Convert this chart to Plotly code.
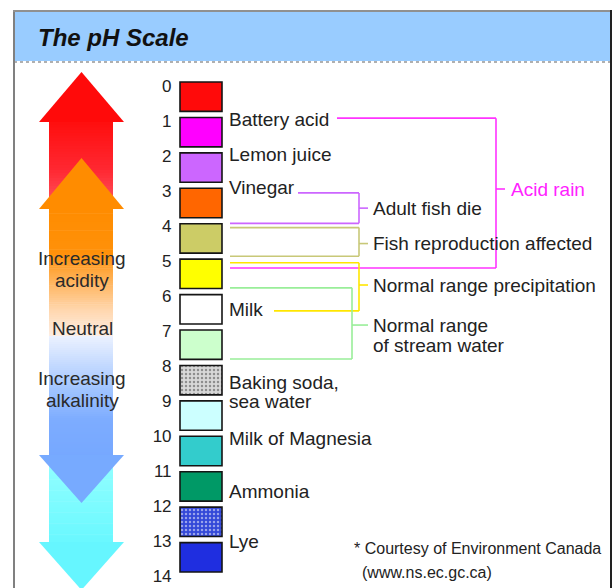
import plotly.graph_objects as go

# ---------------- data ----------------
ph_ticks = list(range(15))
tick_labels = [str(v) for v in ph_ticks]
swatch_ph = list(range(14))
swatch_height = [0.83] * 14

substance_names = ["Battery acid", "Lemon juice", "Vinegar", "Milk",
                   "Baking soda,", "sea water", "Milk of Magnesia", "Ammonia", "Lye"]
substance_ph = [1.07, 2.06, 2.99, 6.41, 8.47, 9.03, 10.05, 11.57, 12.98]

bracket_names = ["Acid rain", "Adult fish die", "Fish reproduction affected",
                 "Normal range precipitation", "Normal range"]
bracket_top_ph = [1.02, 3.13, 4.11, 5.10, 5.81]
bracket_bottom_ph = [5.25, 3.99, 4.92, 6.46, 7.82]
bracket_label_ph = [3.02, 3.56, 4.56, 5.73, 6.86]
extra_line_name = "of stream water"
extra_line_ph = 7.45

# ---------------- styles ----------------
FONT = "Liberation Sans, Arial, Helvetica, sans-serif"
swatch_colors = ["#ff0a0a", "#ff00ff", "#cc66ff", "#ff6600", "#cccc66", "#ffff00",
                 "#ffffff", "#ccffcc", "#d8d8d8", "#ccffff", "#33cccc", "#009966",
                 "#3348d8", "#1f2ee0"]
pattern_shapes = ["", "", "", "", "", "", "", "", ".", "", "", "", ".", ""]
pattern_fg = ["#ffffff"] * 8 + ["#f2f2f2"] + ["#ffffff"] * 3 + ["#6f80ee", "#ffffff"]
bracket_colors = ["#ff33ff", "#cc66ff", "#c8c878", "#ffe600", "#99ee99"]
bracket_vx = [496, 359, 359, 359, 352]
bracket_top_x0 = [337, 298, 230, 230, 230]
bracket_bot_x0 = [230, 230, 230, 274, 230]
bracket_tick_x1 = [505, 368, 368, 368, 368]
bracket_text_x = [511, 373, 373, 373, 373]
bracket_text_col = ["#ff22ff", "#222222", "#222222", "#222222", "#222222"]

W, H = 615, 588
PX0, PXS = 82.0, 35.43  # pixel y of pH 0, pixels per pH unit
LBL0, LBLS = 86.0, 35.0  # pixel y of tick label 0, pixels per label step

fig = go.Figure()

fig.add_trace(go.Bar(
    x=[201] * len(swatch_ph), y=swatch_height, base=swatch_ph, width=42,
    xaxis="x", yaxis="y2",
    marker=dict(color=swatch_colors, line=dict(color="#151515", width=1.6),
                pattern=dict(shape=pattern_shapes, fgcolor=pattern_fg,
                             size=4, solidity=0.3)),
    hoverinfo="skip", showlegend=False,
))

shapes = []

def grad_strips(x0, x1, y0, y1, stops, n=60):
    for k in range(n):
        t = (k + 0.5) / n
        for j in range(len(stops) - 1):
            if stops[j][0] <= t <= stops[j + 1][0]:
                a, b = stops[j], stops[j + 1]
                u = (t - a[0]) / (b[0] - a[0]) if b[0] > a[0] else 0
                c = [round(a[1][i] + (b[1][i] - a[1][i]) * u) for i in range(3)]
                break
        ya = y0 + (y1 - y0) * k / n
        yb = y0 + (y1 - y0) * (k + 1) / n + 0.6
        shapes.append(dict(type="rect", xref="x", yref="y", x0=x0, x1=x1, y0=ya, y1=yb,
                           fillcolor="rgb(%d,%d,%d)" % tuple(c), line=dict(width=0)))

def tri(xl, xr, ybase, tip, color):
    xm = (xl + xr) / 2
    shapes.append(dict(type="path", xref="x", yref="y",
                       path="M %s,%s L %s,%s L %s,%s Z" % (xl, ybase, xr, ybase, xm, tip),
                       fillcolor=color, line=dict(width=0)))

# frame and header
shapes.append(dict(type="rect", xref="x", yref="y", x0=14, x1=611, y0=11, y1=61,
                   fillcolor="#99ccff", line=dict(width=0)))
shapes.append(dict(type="line", xref="x", yref="y", x0=14, x1=611, y0=62, y1=62,
                   line=dict(color="#b0b0b0", width=2, dash="dot")))
shapes.append(dict(type="line", xref="x", yref="y", x0=14, x1=14, y0=10, y1=600,
                   line=dict(color="#808080", width=2)))
shapes.append(dict(type="line", xref="x", yref="y", x0=13, x1=612, y0=11, y1=11,
                   line=dict(color="#909090", width=2)))
shapes.append(dict(type="line", xref="x", yref="y", x0=611, x1=611, y0=10, y1=600,
                   line=dict(color="#222222", width=2)))

# arrows
grad_strips(49, 113, 122, 202, [(0, (255, 14, 14)), (0.6, (255, 40, 50)), (1, (255, 80, 90))], 30)
tri(39, 124, 122, 72, "#ff0a0a")
grad_strips(49, 113, 209, 336, [(0, (255, 140, 0)), (0.35, (255, 145, 10)),
                                 (0.8, (255, 215, 175)), (1, (253, 238, 228))], 60)
tri(39, 124, 209, 158, "#ff8c00")
grad_strips(49, 113, 336, 456, [(0, (236, 242, 255)), (0.45, (160, 196, 255)),
                                 (0.7, (125, 172, 255)), (1, (118, 168, 255))], 60)
grad_strips(49, 113, 455, 543, [(0, (150, 255, 255)), (1, (105, 248, 255))], 40)
tri(39, 124, 455, 503, "#77aaff")
tri(39, 124, 542, 590, "#66f6ff")

# brackets
for i in range(len(bracket_names)):
    col = bracket_colors[i]
    ln = dict(color=col, width=1.6)
    t, b, vx = bracket_top_ph[i], bracket_bottom_ph[i], bracket_vx[i]
    shapes.append(dict(type="line", xref="x", yref="y2", x0=bracket_top_x0[i], x1=vx, y0=t, y1=t, line=ln))
    shapes.append(dict(type="line", xref="x", yref="y2", x0=vx, x1=vx, y0=t, y1=b, line=ln))
    shapes.append(dict(type="line", xref="x", yref="y2", x0=bracket_bot_x0[i], x1=vx, y0=b, y1=b, line=ln))
    shapes.append(dict(type="line", xref="x", yref="y2", x0=vx, x1=bracket_tick_x1[i],
                       y0=bracket_label_ph[i], y1=bracket_label_ph[i], line=ln))

annotations = []

def txt(x, y, s, size=19, color="#222222", anchor="left", yref="y", **kw):
    f = dict(family=FONT, size=size, color=color)
    f.update(kw)
    annotations.append(dict(x=x, y=y, xref="x", yref=yref, text=s, showarrow=False,
                            xanchor=anchor, yanchor="middle", font=f))

txt(36, 37, "The pH Scale", size=24, color="#111111", weight="bold", style="italic")

for name, ph in zip(substance_names, substance_ph):
    txt(227, ph, name, yref="y2")

for i, name in enumerate(bracket_names):
    txt(bracket_text_x[i] - 2, bracket_label_ph[i], name, color=bracket_text_col[i], yref="y2")
txt(371, extra_line_ph, extra_line_name, yref="y2")

for s, y in [("Increasing", 258), ("acidity", 280), ("Neutral", 328),
             ("Increasing", 378), ("alkalinity", 400)]:
    txt(82, y, s, size=19, color="#2a2a2a", anchor="center")

txt(352, 548, "* Courtesy of Environment Canada", size=16)
txt(360, 572, "(www.ns.ec.gc.ca)", size=16)

ph_top = (0 - PX0) / PXS
ph_bottom = (H - PX0) / PXS
tick_pos = [(LBL0 + LBLS * v - PX0) / PXS for v in ph_ticks]

fig.update_layout(
    width=W, height=H, margin=dict(l=0, r=0, t=0, b=0),
    paper_bgcolor="white", plot_bgcolor="white",
    barmode="overlay", showlegend=False,
    xaxis=dict(range=[0, W], visible=False, fixedrange=True),
    yaxis=dict(range=[H, 0], visible=False, fixedrange=True),
    yaxis2=dict(range=[ph_bottom, ph_top], overlaying="y", anchor="free", position=0.279,
                tickvals=tick_pos, ticktext=tick_labels, ticks="", ticklabeloverflow="allow",
                showgrid=False, zeroline=False, showline=False, fixedrange=True,
                tickfont=dict(family=FONT, size=17, color="#222222")),
    shapes=shapes, annotations=annotations,
)

fig.write_html("out.html", config={"displayModeBar": False},
               post_script="document.body.style.margin='0px';document.body.style.overflow='hidden';")
